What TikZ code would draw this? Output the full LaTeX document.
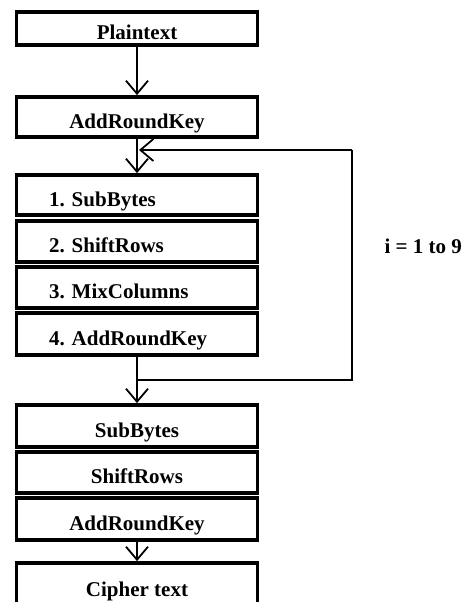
\documentclass[tikz,border=0pt]{standalone}
\usepackage{fontspec}
\setmainfont{Liberation Serif}
\usetikzlibrary{arrows.meta}
\frenchspacing
\begin{document}
\begin{tikzpicture}[x=1pt,y=-1pt,
  box/.style={draw, line width=3.8pt, minimum width=241pt, inner sep=0pt,
    text height=22pt, text depth=0pt, font=\fontsize{21}{25}\selectfont\bfseries},
  lbox/.style={box, align=left, text width=176pt},
  flow/.style={line width=1.8pt, -{Straight Barb[length=13pt,width=22pt,line width=1.8pt]}},
  loopline/.style={line width=1.6pt}]
\useasboundingbox (0,0) rectangle (469,602);
\node[box, minimum height=33pt] (pt) at (137,28.5) {Plaintext};
\node[box, minimum height=40pt] (ark0) at (137,117) {AddRoundKey};
\node[lbox, minimum height=40pt] (sb1) at (137,195) {1. SubBytes};
\node[lbox, minimum height=41pt] (sr1) at (137,241.5) {2. ShiftRows};
\node[lbox, minimum height=41pt] (mc1) at (137,287.5) {3. MixColumns};
\node[lbox, minimum height=42pt] (ark1) at (137,334) {4. AddRoundKey};
\node[box, minimum height=42pt] (sb2) at (137,426) {SubBytes};
\node[box, minimum height=41pt] (sr2) at (137,472.5) {ShiftRows};
\node[box, minimum height=42pt] (ark2) at (137,519) {AddRoundKey};
\node[box, minimum height=44pt] (ct) at (137,585) {Cipher text};
\node[font=\fontsize{21}{25}\selectfont\bfseries, anchor=west] (lbl) at (381,246) {i = 1 to 9};
\coordinate (join) at (137,150);
\coordinate (split) at (137,380);
\coordinate (rtop) at (352,150);
\coordinate (rbot) at (352,380);
\draw[flow] (pt.south) -- (ark0.north);
\draw[flow] (ark0.south) -- (sb1.north);
\draw[flow] (ark1.south) -- (sb2.north);
\draw[flow] (ark2.south) -- (ct.north);
\draw[loopline] (split) -- (rbot) -- (rtop);
\draw[flow, line width=1.6pt] (rtop) -- ([xshift=2pt]join);
\end{tikzpicture}
\end{document}
